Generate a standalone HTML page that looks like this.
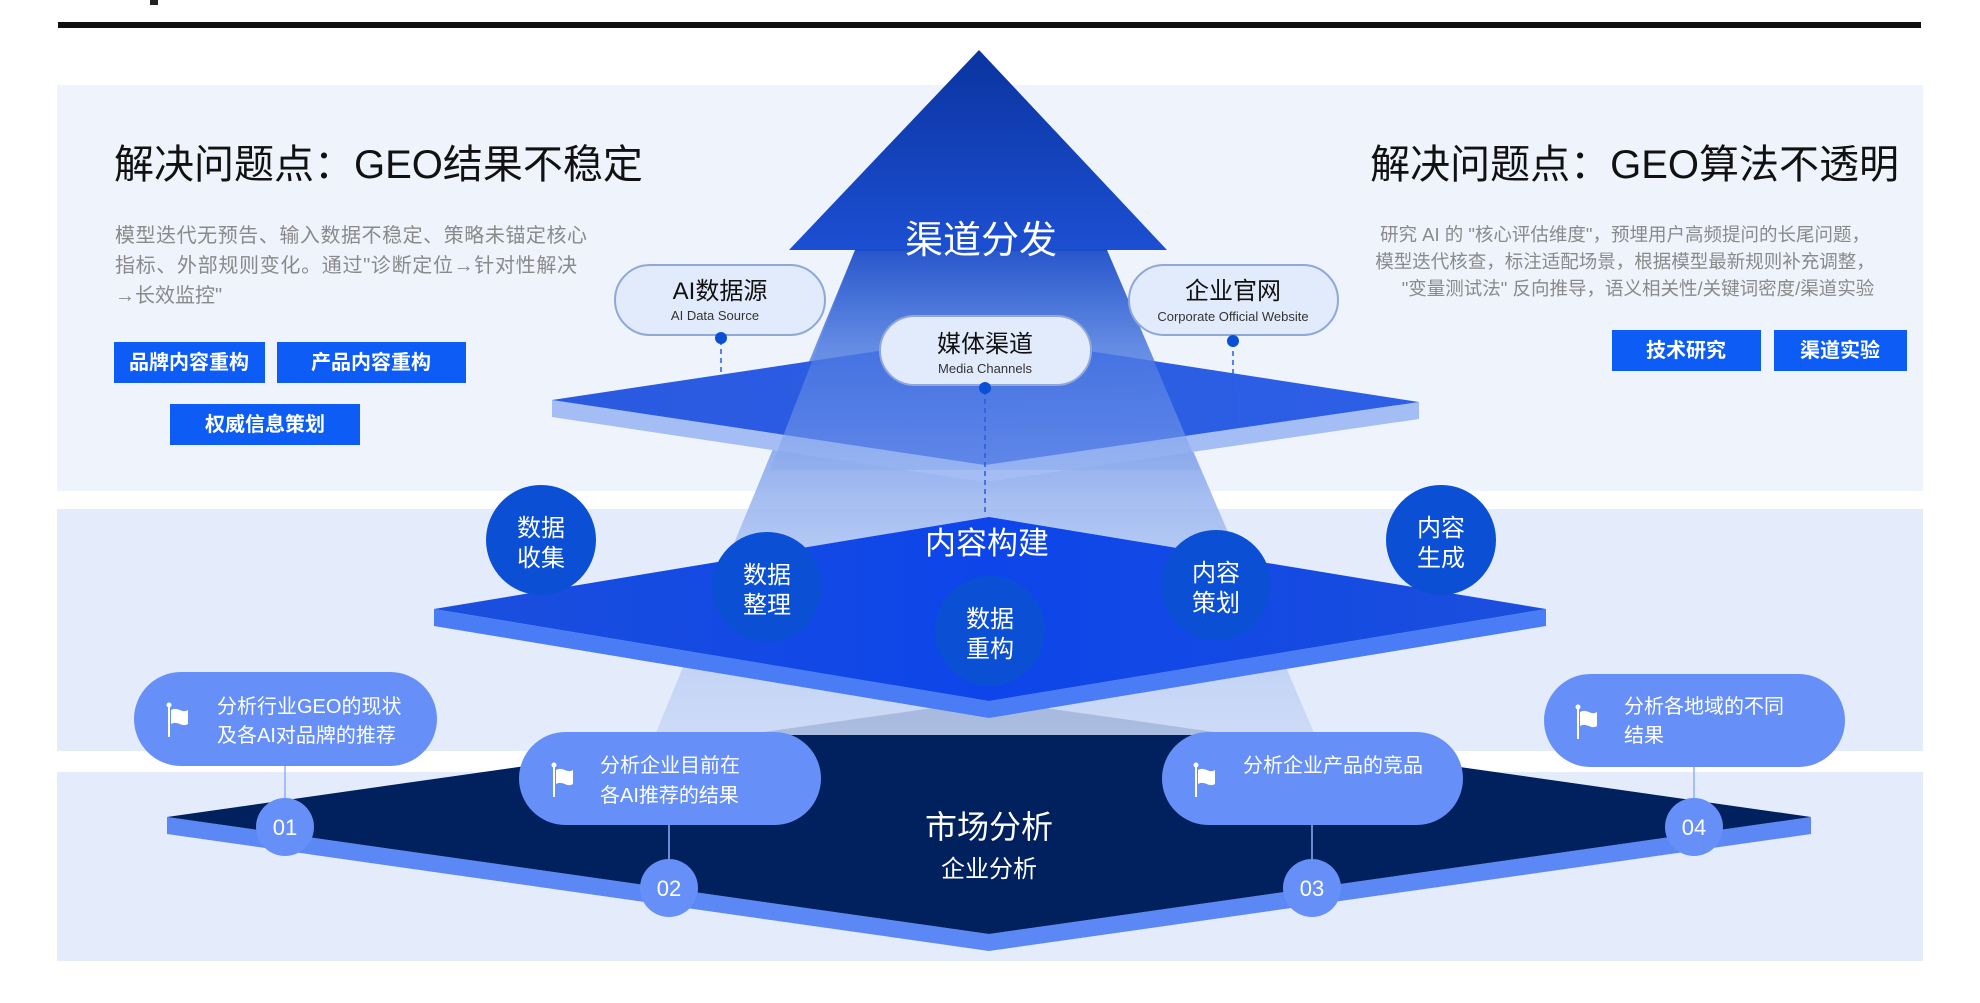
<!DOCTYPE html>
<html><head><meta charset="utf-8"><style>
html,body{margin:0;padding:0;background:#fff;}
svg{display:block;font-family:"Liberation Sans","Noto Sans CJK SC",sans-serif;}
</style></head><body>
<svg width="1980" height="1003" viewBox="0 0 1980 1003" xmlns="http://www.w3.org/2000/svg">
<defs>
<linearGradient id="head" x1="0" y1="0" x2="0" y2="1"><stop offset="0" stop-color="#0a34a0"/><stop offset="1" stop-color="#1c4fd2"/></linearGradient>
<linearGradient id="shaft" x1="0" y1="250" x2="0" y2="735" gradientUnits="userSpaceOnUse"><stop offset="0" stop-color="#1a4cc8"/><stop offset="0.2" stop-color="#5a84e2"/><stop offset="0.6" stop-color="#a8c0f2"/><stop offset="1" stop-color="#c9d8f6"/></linearGradient>
<linearGradient id="mid" x1="0" y1="0" x2="1" y2="0"><stop offset="0" stop-color="#1c4fdc"/><stop offset="0.5" stop-color="#0d45ea"/><stop offset="1" stop-color="#1c4fdc"/></linearGradient>
<linearGradient id="topf" x1="0" y1="0" x2="1" y2="0"><stop offset="0" stop-color="#2a5ae0"/><stop offset="1" stop-color="#2d5fe6"/></linearGradient>
</defs>
<!-- header bar -->
<rect x="58" y="22" width="1863" height="6" fill="#111"/>
<rect x="150" y="0" width="8" height="5" fill="#222"/>
<!-- panels -->
<rect x="57" y="85" width="1866" height="406" fill="#eef3fc"/>
<rect x="57" y="509" width="1866" height="242" fill="#e4ebfa"/>
<rect x="57" y="772" width="1866" height="189" fill="#e4ebfa"/>

<!-- bottom plane -->
<polygon points="167,817 989,934 1811,817 1811,834 989,951 167,834" fill="#5b88f5"/>
<polygon points="167,817 989,700 1811,817 989,934" fill="#00215e"/>

<!-- shaft -->
<polygon points="855,250 1107,250 1315,735 655,735" fill="url(#shaft)" opacity="0.85"/>

<!-- middle plane -->
<polygon points="434,609 989,701 1546,609 1546,626 989,718 434,626" fill="#4a7cf5"/>
<polygon points="434,609 989,517 1546,609 989,701" fill="url(#mid)"/>

<!-- circles -->
<g fill="#0b50d4">
<circle cx="541" cy="540" r="55"/>
<circle cx="767" cy="587" r="55"/>
<circle cx="990" cy="631" r="55"/>
<circle cx="1216" cy="585" r="55"/>
<circle cx="1441" cy="540" r="55"/>
</g>
<g fill="#fff" font-size="24" text-anchor="middle">
<text x="541" y="536">数据</text><text x="541" y="566">收集</text>
<text x="767" y="583">数据</text><text x="767" y="613">整理</text>
<text x="990" y="627">数据</text><text x="990" y="657">重构</text>
<text x="1216" y="581">内容</text><text x="1216" y="611">策划</text>
<text x="1441" y="536">内容</text><text x="1441" y="566">生成</text>
</g>
<text x="987" y="554" fill="#fff" font-size="31" text-anchor="middle">内容构建</text>

<!-- top plane -->
<polygon points="552,400 985,465 1419,402 1419,419 985,482 552,417" fill="#a4bdf5"/>
<polygon points="552,400 985,335 1419,402 985,465" fill="url(#topf)"/>
<!-- shaft overlay over top plane -->
<polygon points="855,250 1107,250 1200,470 770,470" fill="url(#shaft)" opacity="0.55"/>

<!-- arrowhead -->
<polygon points="979,50 789,250 1167,250" fill="url(#head)"/>
<rect x="855" y="249" width="252" height="2" fill="#1a4cc8"/>
<text x="981" y="253" fill="#fff" font-size="38" text-anchor="middle">渠道分发</text>

<!-- dashed connectors -->
<g stroke="#2a5ae0" stroke-width="1.5" stroke-dasharray="5,4">
<line x1="721" y1="340" x2="721" y2="425"/>
<line x1="985" y1="390" x2="985" y2="515"/>
<line x1="1233" y1="342" x2="1233" y2="425"/>
</g>
<!-- top pills -->
<g fill="#e2ebfb" stroke="#8fa8d8" stroke-width="2">
<rect x="615" y="265" width="210" height="70" rx="35"/>
<rect x="880" y="316" width="211" height="69" rx="34.5"/>
<rect x="1129" y="265" width="209" height="70" rx="35"/>
</g>
<g fill="#0b50d4"><circle cx="721" cy="338" r="6"/><circle cx="985" cy="388" r="6"/><circle cx="1233" cy="341" r="6"/></g>
<g fill="#111" text-anchor="middle">
<text x="720" y="299" font-size="24">AI数据源</text>
<text x="715" y="320" font-size="13" fill="#333">AI Data Source</text>
<text x="985" y="352" font-size="24">媒体渠道</text>
<text x="985" y="373" font-size="13" fill="#333">Media Channels</text>
<text x="1233" y="299" font-size="24">企业官网</text>
<text x="1233" y="321" font-size="13" fill="#333">Corporate Official Website</text>
</g>

<!-- market labels -->
<text x="989" y="838" fill="#fff" font-size="32" text-anchor="middle">市场分析</text>
<text x="989" y="877" fill="#fff" font-size="24" text-anchor="middle">企业分析</text>

<!-- bottom pills connectors -->
<g stroke="#8fb0f8" stroke-width="1.5">
<line x1="285" y1="766" x2="285" y2="800"/>
<line x1="669" y1="825" x2="669" y2="860"/>
<line x1="1312" y1="825" x2="1312" y2="860"/>
<line x1="1694" y1="767" x2="1694" y2="800"/>
</g>
<g fill="#6690f8">
<rect x="134" y="672" width="303" height="94" rx="47"/>
<rect x="519" y="732" width="302" height="93" rx="46.5"/>
<rect x="1162" y="732" width="301" height="93" rx="46.5"/>
<rect x="1544" y="674" width="301" height="93" rx="46.5"/>
<ellipse cx="285" cy="827" rx="29" ry="29"/>
<ellipse cx="669" cy="888" rx="29" ry="29"/>
<ellipse cx="1312" cy="888" rx="29" ry="29"/>
<ellipse cx="1694" cy="827" rx="29" ry="29"/>
</g>
<g fill="#fff" font-size="22" text-anchor="middle">
<text x="285" y="835">01</text><text x="669" y="896">02</text><text x="1312" y="896">03</text><text x="1694" y="835">04</text>
</g>
<!-- flags -->
<g fill="#fff">
<g transform="translate(168,705)"><rect x="0" y="0" width="2" height="32"/><circle cx="1" cy="0" r="2.5"/><path d="M3,5 C10,1 14,9 20,5 L20,19 C14,23 10,15 3,19 Z"/></g>
<g transform="translate(553,765)"><rect x="0" y="0" width="2" height="32"/><circle cx="1" cy="0" r="2.5"/><path d="M3,5 C10,1 14,9 20,5 L20,19 C14,23 10,15 3,19 Z"/></g>
<g transform="translate(1195,765)"><rect x="0" y="0" width="2" height="32"/><circle cx="1" cy="0" r="2.5"/><path d="M3,5 C10,1 14,9 20,5 L20,19 C14,23 10,15 3,19 Z"/></g>
<g transform="translate(1577,707)"><rect x="0" y="0" width="2" height="32"/><circle cx="1" cy="0" r="2.5"/><path d="M3,5 C10,1 14,9 20,5 L20,19 C14,23 10,15 3,19 Z"/></g>
</g>
<g fill="#fff" font-size="20">
<text x="217" y="713">分析行业GEO的现状</text><text x="217" y="742">及各AI对品牌的推荐</text>
<text x="600" y="772">分析企业目前在</text><text x="600" y="802">各AI推荐的结果</text>
<text x="1243" y="772">分析企业产品的竞品</text>
<text x="1624" y="713">分析各地域的不同</text><text x="1624" y="742">结果</text>
</g>

<!-- left text block -->
<text x="114" y="178" font-size="40" fill="#111">解决问题点：GEO结果不稳定</text>
<g font-size="20" fill="#8a8a8a">
<text x="115" y="242" textLength="472">模型迭代无预告、输入数据不稳定、策略未锚定核心</text>
<text x="115" y="272" textLength="462">指标、外部规则变化。通过"诊断定位→针对性解决</text>
<text x="115" y="302">→长效监控"</text>
</g>
<g fill="#0c5cf5">
<rect x="114" y="342" width="151" height="41"/>
<rect x="277" y="342" width="189" height="41"/>
<rect x="170" y="404" width="190" height="41"/>
</g>
<g fill="#fff" font-size="20" font-weight="bold" text-anchor="middle">
<text x="189" y="369">品牌内容重构</text>
<text x="371" y="369">产品内容重构</text>
<text x="265" y="431">权威信息策划</text>
</g>

<!-- right text block -->
<text x="1899" y="178" font-size="40" fill="#111" text-anchor="end">解决问题点：GEO算法不透明</text>
<g font-size="18.5" fill="#8a8a8a" text-anchor="middle">
<text x="1625" y="241">研究 AI 的 "核心评估维度"，预埋用户高频提问的长尾问题，</text>
<text x="1625" y="268">模型迭代核查，标注适配场景，根据模型最新规则补充调整，</text>
<text x="1638" y="295">"变量测试法" 反向推导，语义相关性/关键词密度/渠道实验</text>
</g>
<g fill="#0c5cf5">
<rect x="1612" y="330" width="149" height="41"/>
<rect x="1774" y="330" width="133" height="41"/>
</g>
<g fill="#fff" font-size="20" font-weight="bold" text-anchor="middle">
<text x="1686" y="357">技术研究</text>
<text x="1840" y="357">渠道实验</text>
</g>
</svg>
</body></html>
